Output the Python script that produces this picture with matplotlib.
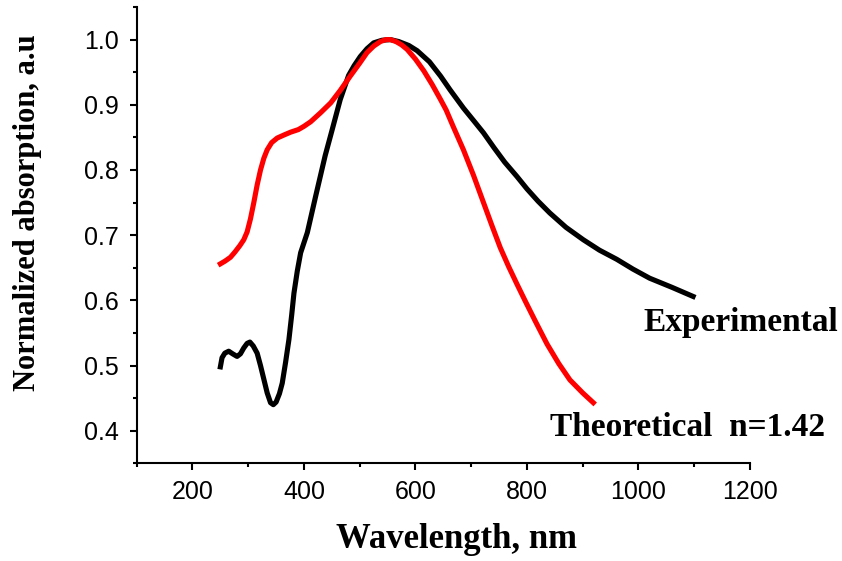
import matplotlib
matplotlib.use("Agg")
import matplotlib.pyplot as plt
from matplotlib.ticker import MultipleLocator

# experimental spectrum (black)
exp_wl = [250, 253, 258, 265, 272, 280, 286, 292, 298, 303, 309, 316, 322, 328,
          334, 340, 345, 350, 356, 361, 367, 373, 378, 382, 388, 394, 406, 421,
          438, 450, 465, 480, 490, 501, 513, 525, 540, 555, 570, 588, 603, 625,
          645, 662, 686, 705, 722, 741, 760, 782, 800, 820, 841, 870, 901, 930,
          961, 990, 1020, 1060, 1098]
exp_abs = [0.498, 0.512, 0.519, 0.522, 0.518, 0.514, 0.518, 0.527, 0.534, 0.536,
           0.530, 0.519, 0.500, 0.479, 0.458, 0.443, 0.440, 0.444, 0.457, 0.473,
           0.505, 0.540, 0.578, 0.611, 0.645, 0.673, 0.704, 0.760, 0.822, 0.860,
           0.908, 0.945, 0.960, 0.974, 0.986, 0.995, 0.999, 1.000, 0.997, 0.991,
           0.983, 0.966, 0.944, 0.923, 0.895, 0.875, 0.857, 0.834, 0.812, 0.790,
           0.771, 0.752, 0.734, 0.712, 0.693, 0.677, 0.663, 0.648, 0.634, 0.620,
           0.606]

# theoretical spectrum, n=1.42 (red)
th_wl = [250, 258, 268, 276, 285, 292, 298, 304, 310, 316, 322, 328, 334, 342,
         352, 365, 376, 390, 400, 412, 430, 448, 465, 483, 500, 513, 525, 537,
         547, 555, 565, 575, 585, 600, 615, 630, 645, 655, 668, 686, 704, 722,
         737, 752, 767, 782, 798, 815, 836, 857, 877, 900, 919]
th_abs = [0.656, 0.660, 0.666, 0.674, 0.684, 0.693, 0.705, 0.725, 0.750, 0.777,
          0.800, 0.818, 0.831, 0.842, 0.849, 0.854, 0.858, 0.862, 0.867, 0.874,
          0.888, 0.903, 0.922, 0.944, 0.964, 0.980, 0.990, 0.997, 1.000, 1.000,
          0.997, 0.992, 0.985, 0.970, 0.952, 0.931, 0.908, 0.892, 0.866, 0.831,
          0.792, 0.750, 0.715, 0.681, 0.652, 0.625, 0.597, 0.568, 0.533, 0.503,
          0.478, 0.458, 0.443]

serif = "Liberation Serif"
sans = "Liberation Sans"

fig = plt.figure(figsize=(8.42, 5.61), dpi=100)
ax = fig.add_axes([0.1624, 0.1741, 0.7283, 0.8134])

ax.plot(exp_wl, exp_abs, color="black", lw=3.7, solid_joinstyle="round")
ax.plot(th_wl, th_abs, color="#ff0000", lw=3.7, solid_joinstyle="round")

ax.set_xlim(100, 1200)
ax.set_ylim(0.35, 1.05)
ax.set_xticks([200, 400, 600, 800, 1000, 1200])
ax.xaxis.set_minor_locator(MultipleLocator(100))
ax.yaxis.set_major_locator(MultipleLocator(0.1))
ax.yaxis.set_minor_locator(MultipleLocator(0.05))
ax.yaxis.set_major_formatter(plt.FormatStrFormatter("%.1f"))

for side in ["top", "right"]:
    ax.spines[side].set_visible(False)
for side in ["left", "bottom"]:
    ax.spines[side].set_linewidth(1.5)

ax.tick_params(which="major", direction="out", length=5, width=1.5)
ax.tick_params(which="minor", direction="out", length=3, width=1.5)
ax.tick_params(axis="x", which="major", pad=7)
ax.tick_params(axis="y", which="major", pad=8)
for lab in ax.get_xticklabels() + ax.get_yticklabels():
    lab.set_fontfamily(sans)
    lab.set_fontsize(18)

fig.text(456 / 842, 1 - 540 / 561, "Wavelength, nm", ha="center", va="center",
         fontfamily=serif, fontweight="bold", fontsize=25)
fig.text(28 / 842, 1 - 213 / 561, "Normalized absorption, a.u", ha="center",
         va="center", rotation=90, fontfamily=serif, fontweight="bold", fontsize=22)

fig.text(643 / 842, 1 - 323 / 561, "Experimental", ha="left", va="center",
         fontfamily=serif, fontweight="bold", fontsize=24)
fig.text(550 / 842, 1 - 428 / 561, "Theoretical  n=1.42", ha="left", va="center",
         fontfamily=serif, fontweight="bold", fontsize=24)

fig.savefig("out.png", dpi=100)
